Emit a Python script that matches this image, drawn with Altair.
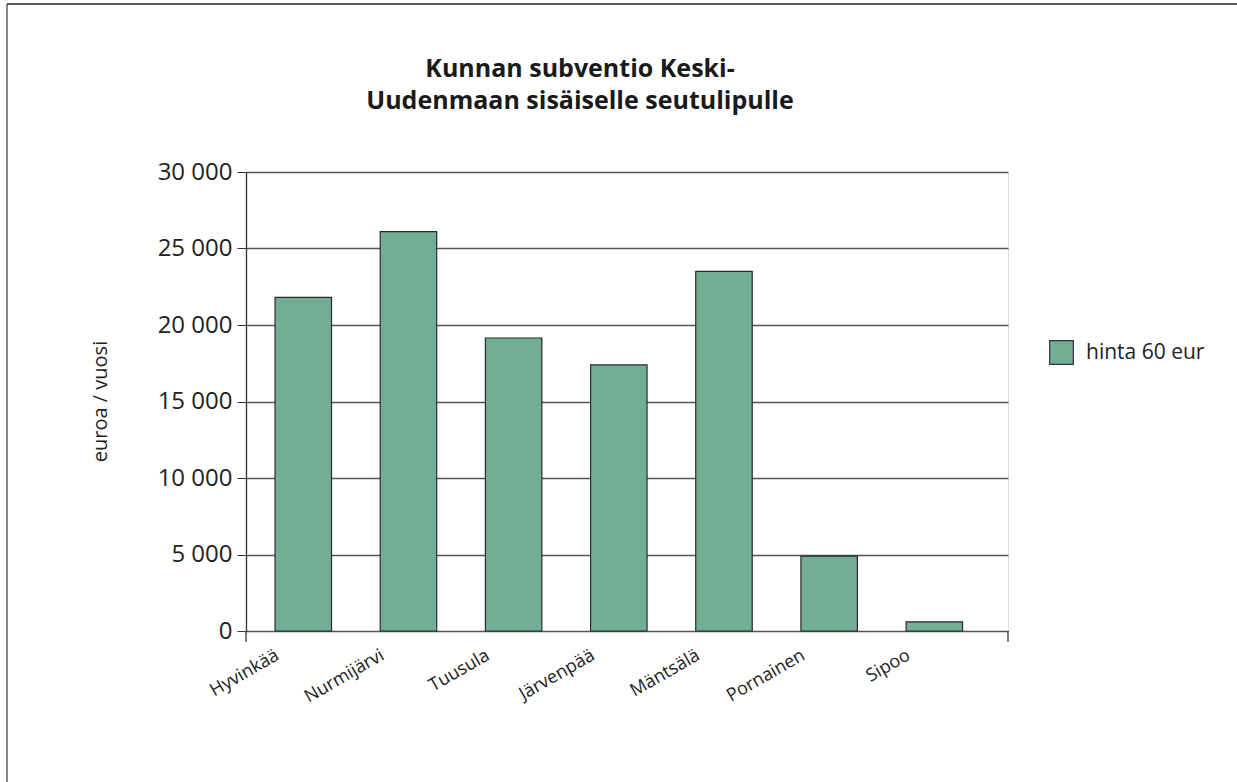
import altair as alt
import pandas as pd

# Municipal subsidy per municipality (euro / year)
municipalities = ["Hyvinkää", "Nurmijärvi", "Tuusula", "Järvenpää", "Mäntsälä", "Pornainen", "Sipoo"]
subsidy = [21800, 26100, 19150, 17400, 23500, 4900, 600]
series_name = "hinta 60 eur"
y_ticks = [0, 5000, 10000, 15000, 20000, 25000, 30000]
title_lines = ["Kunnan subventio Keski-", "Uudenmaan sisäiselle seutulipulle"]

df = pd.DataFrame({"kunta": municipalities, "euroa": subsidy, "sarja": series_name})

FONT = "Open Sans"
W, H = 762, 459

bars = alt.Chart(df).mark_bar(stroke="#2b2b2b", strokeWidth=1.2).encode(
    x=alt.X(
        "kunta:N",
        sort=municipalities,
        title=None,
        scale=alt.Scale(paddingInner=0.463, paddingOuter=0.354, align=0.39),
        axis=alt.Axis(
            labelAngle=-30,
            labelAlign="right",
            labelBaseline="top",
            labelOffset=-30,
            labelPadding=15,
            ticks=False,
            tickSize=0,
            domain=False,
            grid=False,
            labelFontSize=18,
            labelColor="#222",
            labelFont=FONT,
        ),
    ),
    y=alt.Y(
        "euroa:Q",
        scale=alt.Scale(domain=[0, 30000], nice=False),
        title="euroa / vuosi",
        axis=alt.Axis(
            values=y_ticks,
            labelExpr="replace(format(datum.value, ','), ',', ' ')",
            labelFontSize=24,
            labelFont=FONT,
            labelColor="#222",
            labelPadding=5,
            tickSize=9,
            tickColor="#333",
            domainColor="#333",
            domainWidth=1.3,
            gridColor="#555",
            gridWidth=1.3,
            titleFont=FONT,
            titleFontSize=20,
            titleFontWeight="normal",
            titleColor="#222",
            titleAngle=-90,
            titleX=-146,
            titleY=229,
            titleAlign="center",
            titleBaseline="middle",
        ),
    ),
    color=alt.Color(
        "sarja:N",
        scale=alt.Scale(range=["#72AD96"]),
        legend=alt.Legend(
            title=None,
            orient="none",
            legendX=803,
            legendY=168,
            padding=0,
            symbolType="square",
            symbolSize=560,
            symbolStrokeColor="#333",
            symbolStrokeWidth=1.2,
            symbolOpacity=1,
            labelFont=FONT,
            labelFontSize=21,
            labelColor="#222",
            labelOffset=12,
        ),
    ),
)

# Two-line chart heading
heading_style = dict(font=FONT, fontSize=25, fontWeight="bold", color="#1a1a1a",
                     align="center", baseline="alphabetic")
heading1 = alt.Chart(pd.DataFrame({"t": [title_lines[0]]})).mark_text(**heading_style).encode(
    text="t:N", x=alt.value(334), y=alt.value(-95)
)
heading2 = alt.Chart(pd.DataFrame({"t": [title_lines[1]]})).mark_text(**heading_style).encode(
    text="t:N", x=alt.value(334), y=alt.value(-63)
)

# Short extensions of the plot edges below the baseline
edge_ticks = alt.Chart(pd.DataFrame({"e": [0]})).mark_rule(color="#333", strokeWidth=1.3).encode(
    y=alt.value(H), y2=alt.value(H + 11)
)
left_ext = edge_ticks.encode(x=alt.value(0))
right_ext = edge_ticks.encode(x=alt.value(W))

# Frame lines around the figure
frame_left = alt.Chart(pd.DataFrame({"e": [0]})).mark_rule(color="#888", strokeWidth=2).encode(
    x=alt.value(-239), y=alt.value(-168), y2=alt.value(H + 160)
)
frame_top = alt.Chart(pd.DataFrame({"e": [0]})).mark_rule(color="#222", strokeWidth=1.5).encode(
    x=alt.value(-239), x2=alt.value(W + 240), y=alt.value(-168)
)

chart = alt.layer(bars, heading1, heading2, left_ext, right_ext, frame_left, frame_top).properties(
    width=W,
    height=H,
    padding={"left": 246, "top": 172, "right": 229, "bottom": 151},
    autosize=alt.AutoSizeParams(type="none"),
).configure_view(stroke="#333", strokeWidth=1.3).configure(background="white")

chart.save("out.html", embed_options={"renderer": "svg", "actions": False})
